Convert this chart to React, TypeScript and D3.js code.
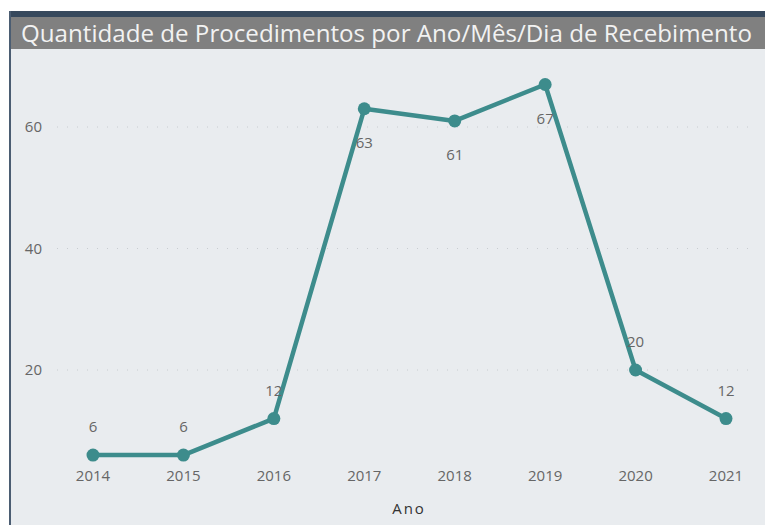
import React from "react";
import * as d3 from "d3";

const years = ["2014", "2015", "2016", "2017", "2018", "2019", "2020", "2021"];
const counts = [6, 6, 12, 63, 61, 67, 20, 12];
const yTicks = [20, 40, 60];
const labelBelow = [false, false, false, true, true, true, false, false];
const title = "Quantidade de Procedimentos por Ano/Mês/Dia de Recebimento";
const xTitle = "Ano";

const W = 765;
const H = 525;

export default function App() {
  const x = d3.scalePoint<string>().domain(years).range([93, 726]);
  const y = d3.scaleLinear().domain([0, 20]).range([491.5, 370]);
  const line = d3
    .line<number>()
    .x((_, i) => x(years[i]) as number)
    .y((d) => y(d));
  const teal = "#3d8c8c";
  const font = "'Open Sans', 'Noto Sans', sans-serif";
  return (
    <svg
      width={W}
      height={H}
      style={{ position: "absolute", left: 0, top: 0, display: "block" }}
      fontFamily={font}
    >
      <rect x={0} y={0} width={W} height={H} fill="#ffffff" />
      <rect x={9} y={11} width={W - 9} height={H - 11} fill="#e9ecef" />
      <rect x={9} y={11} width={W - 9} height={6} fill="#37495d" />
      <rect x={9} y={17} width={W - 9} height={32} fill="#808080" />
      <rect x={9} y={11} width={2} height={H - 11} fill="#4b5d72" />
      <text x={21} y={42} fill="#f2f2f2" fontSize={24} textLength={731} lengthAdjust="spacingAndGlyphs">
        {title}
      </text>
      {yTicks.map((t) => (
        <g key={t}>
          <line
            x1={57}
            x2={757}
            y1={y(t)}
            y2={y(t)}
            stroke="#c8ccd0"
            strokeWidth={1}
            strokeDasharray="1 9"
          />
          <text x={42} y={y(t)} dy="0.35em" textAnchor="end" fontSize={15} fill="#666">
            {t}
          </text>
        </g>
      ))}
      {years.map((yr) => (
        <text key={yr} x={x(yr)} y={476} dy="0.35em" textAnchor="middle" fontSize={15} fill="#666">
          {yr}
        </text>
      ))}
      <text x={409} y={509} dy="0.35em" textAnchor="middle" fontSize={15} fill="#333" letterSpacing={2}>
        {xTitle}
      </text>
      <path d={line(counts) || ""} fill="none" stroke={teal} strokeWidth={4.5} strokeLinejoin="round" />
      {counts.map((c, i) => (
        <circle key={i} cx={x(years[i])} cy={y(c)} r={6.5} fill={teal} />
      ))}
      {counts.map((c, i) => (
        <text
          key={"l" + i}
          x={x(years[i])}
          y={y(c) + (labelBelow[i] ? 34 : -28)}
          dy="0.35em"
          textAnchor="middle"
          fontSize={15}
          fill="#666"
        >
          {c}
        </text>
      ))}
    </svg>
  );
}
